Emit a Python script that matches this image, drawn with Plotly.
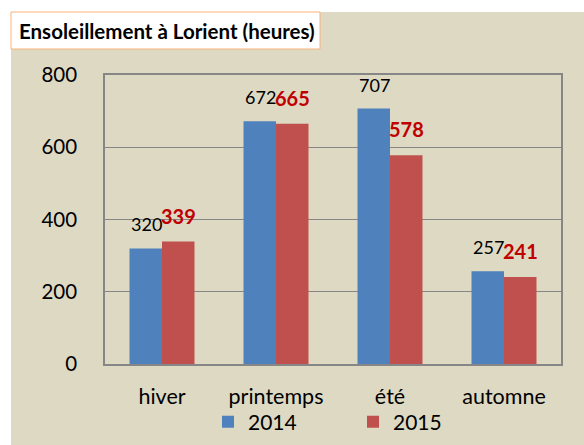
import plotly.graph_objects as go

categories = ["hiver", "printemps", "été", "automne"]
values_2014 = [320, 672, 707, 257]
values_2015 = [339, 665, 578, 241]
series_names = ["2014", "2015"]
title_text = "Ensoleillement à Lorient (heures)"
y_ticks = [0, 200, 400, 600, 800]

W, H = 584, 445
L, R, T, B = 105, 23, 75, 81
pw, ph = W - L - R, H - T - B

def px(x):
    return (x - L) / pw

def py(y):
    return (H - B - y) / ph

FONT = "Lato"
fig = go.Figure()
fig.add_trace(go.Bar(x=categories, y=values_2014, name=series_names[0],
                     marker=dict(color="#4F81BD", line=dict(width=0))))
fig.add_trace(go.Bar(x=categories, y=values_2015, name=series_names[1],
                     marker=dict(color="#C0504D", line=dict(width=0))))

annotations = []
for c, v in zip(categories, values_2014):
    annotations.append(dict(x=c, y=v, xref="x", yref="y", text=str(v), showarrow=False,
                            xshift=-16, yshift=24, yanchor="middle",
                            font=dict(family=FONT, size=18, color="#000000")))
for c, v in zip(categories, values_2015):
    annotations.append(dict(x=c, y=v, xref="x", yref="y", text="<b>%d</b>" % v, showarrow=False,
                            xshift=16, yshift=26, yanchor="middle",
                            font=dict(family=FONT, size=20, color="#C00000")))
annotations.append(dict(x=px(17), y=py(31), xref="paper", yref="paper", xanchor="left",
                        yanchor="middle", text="<b>%s</b>" % title_text, showarrow=False,
                        font=dict(family=FONT, size=20.5, color="#000000")))

shapes = [
    dict(type="rect", xref="paper", yref="paper", x0=px(11), x1=px(W + 5), y0=py(H + 5), y1=py(12),
         fillcolor="#DDD9C3", line=dict(width=0), layer="below"),
    dict(type="rect", xref="paper", yref="paper", x0=px(11), x1=px(320), y0=py(49), y1=py(12),
         fillcolor="#FFFFFF", line=dict(color="#F9B27A", width=1), layer="below"),
]

fig.update_layout(
    width=W, height=H,
    margin=dict(l=L, r=R, t=T, b=B, autoexpand=False),
    paper_bgcolor="#FFFFFF", plot_bgcolor="#FFFFFF",
    barmode="group", bargap=0.43, bargroupgap=0,
    font=dict(family=FONT, size=21, color="#000000"),
    showlegend=True,
    legend=dict(orientation="h", x=px(208), xanchor="left", y=py(422), yanchor="middle",
                font=dict(family=FONT, size=21), entrywidth=100, bgcolor="rgba(0,0,0,0)",
                itemwidth=30, tracegroupgap=0),
    annotations=annotations, shapes=shapes,
    xaxis=dict(showgrid=False, showline=True, linecolor="#868686", linewidth=1.5, mirror=True,
               ticks="", ticklabelstandoff=12, tickfont=dict(family=FONT, size=21.5)),
    yaxis=dict(range=[0, 800], tickvals=y_ticks, showgrid=True, gridcolor="#868686", gridwidth=1,
               showline=True, linecolor="#868686", linewidth=1.5, mirror=True, zeroline=False,
               ticks="", ticklabelstandoff=22, tickfont=dict(family=FONT, size=20.5)),
)

fig.write_html("out.html", config={"displayModeBar": False},
               post_script="document.body.style.margin='0';document.body.style.overflow='hidden';")
